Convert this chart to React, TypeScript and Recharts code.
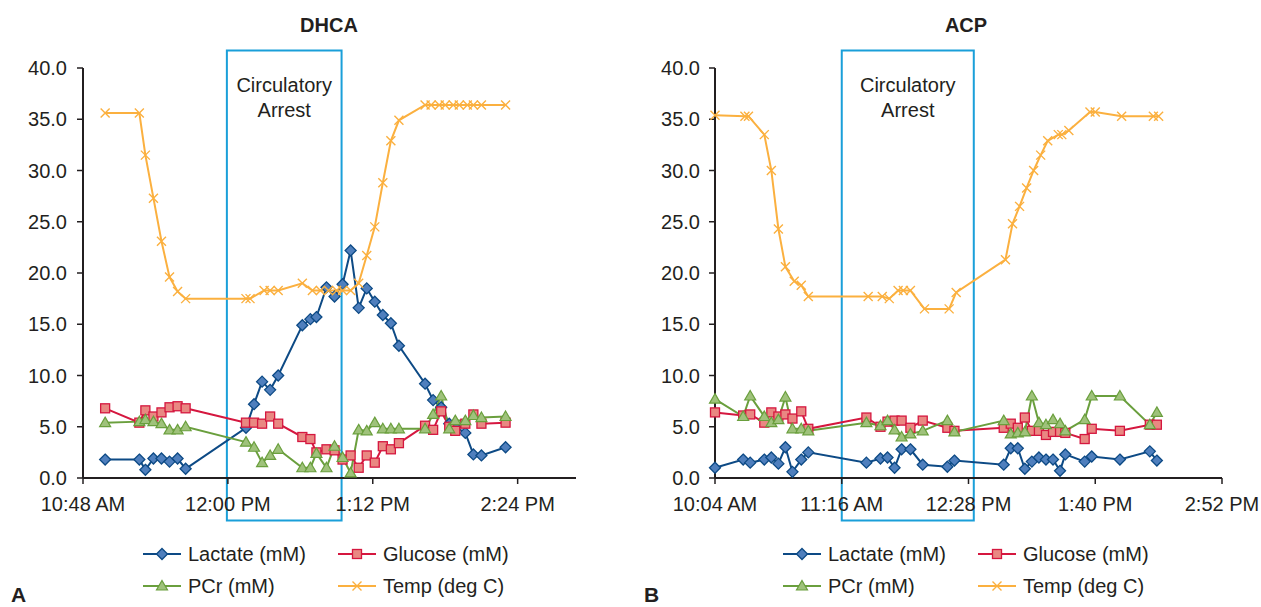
import React from "react";
import { LineChart, Line, XAxis, YAxis, ReferenceArea } from "recharts";

// DHCA panel (times in minutes after midnight)
const dhcaTimes = [659, 676, 679, 683, 687, 691, 695, 699, 729, 733, 737, 741, 745, 757, 761, 764, 769, 773, 777, 781, 785, 789, 793, 797, 801, 805, 818, 822, 826, 830, 833, 838, 842, 846, 858];
const dhcaLactate = [1.8, 1.8, 0.8, 1.9, 1.9, 1.6, 1.9, 0.9, 4.9, 7.2, 9.4, 8.6, 10.0, 14.9, 15.5, 15.7, 18.6, 17.7, 18.9, 22.2, 16.6, 18.5, 17.2, 15.9, 15.1, 12.9, 9.2, 7.6, 6.9, 5.3, 5.0, 4.4, 2.3, 2.2, 3.0];
const dhcaGlucose = [6.8, 5.4, 6.6, 6.0, 6.4, 6.9, 7.0, 6.8, 5.4, 5.4, 5.3, 6.0, 5.3, 4.0, 3.8, 2.5, 2.8, 2.7, 1.8, 2.2, 1.0, 2.2, 1.5, 3.1, 2.8, 3.4, 5.1, 4.7, 6.5, 5.0, 4.6, 5.3, 6.2, 5.3, 5.4];
const dhcaPCr = [5.4, 5.5, 5.7, 5.5, 5.3, 4.7, 4.7, 5.0, 3.5, 3.0, 1.5, 2.2, 2.8, 1.0, 1.0, 2.4, 1.0, 3.1, 2.0, 0.5, 4.7, 4.6, 5.4, 4.8, 4.8, 4.8, 4.8, 6.2, 8.0, 4.8, 5.6, 5.6, 6.1, 5.9, 6.0];
const dhcaTempTimes = [659, 676, 679, 683, 687, 691, 695, 699, 729, 731, 738, 741, 745, 757, 762, 766, 770, 774, 777, 781, 785, 789, 793, 797, 801, 805, 818, 821, 825, 828, 832, 835, 839, 842, 846, 858];
const dhcaTemp = [35.6, 35.6, 31.5, 27.3, 23.1, 19.6, 18.2, 17.5, 17.5, 17.5, 18.3, 18.3, 18.3, 19.0, 18.3, 18.3, 18.3, 18.3, 18.3, 18.3, 19.0, 21.7, 24.5, 28.8, 32.9, 34.9, 36.4, 36.4, 36.4, 36.4, 36.4, 36.4, 36.4, 36.4, 36.4, 36.4];
const dhcaTicks = [648, 720, 792, 864];

// ACP panel
const acpTimes = [604, 620, 624, 632, 636, 640, 644, 648, 653, 657, 690, 698, 702, 706, 710, 715, 722, 736, 740, 768, 772, 776, 780, 784, 788, 792, 796, 800, 803, 814, 818, 834, 851, 855];
const acpLactate = [1.0, 1.8, 1.5, 1.8, 2.0, 1.4, 3.0, 0.6, 1.8, 2.5, 1.5, 1.9, 2.0, 1.0, 2.8, 2.8, 1.3, 1.1, 1.7, 1.3, 2.9, 2.9, 0.9, 1.6, 2.0, 1.8, 1.8, 0.7, 2.3, 1.6, 2.1, 1.8, 2.6, 1.7];
const acpGlucose = [6.4, 6.1, 6.2, 5.4, 6.4, 6.0, 6.2, 5.8, 6.5, 4.8, 5.9, 5.0, 5.5, 5.6, 5.6, 4.9, 5.6, 4.9, 4.6, 4.9, 5.3, 4.9, 5.9, 4.6, 4.6, 4.2, 4.5, 4.5, 4.4, 3.8, 4.8, 4.6, 5.2, 5.2];
const acpPCr = [7.7, 6.0, 8.0, 6.0, 5.4, 5.7, 7.9, 4.8, 4.8, 4.6, 5.4, 5.1, 5.6, 4.7, 4.0, 4.3, 4.6, 5.6, 4.5, 5.6, 4.3, 4.4, 4.5, 8.0, 5.4, 5.2, 5.7, 5.3, 4.6, 5.7, 8.0, 8.0, 5.2, 6.4];
const acpTempTimes = [604, 621, 623, 632, 636, 640, 644, 649, 653, 657, 691, 699, 703, 708, 711, 715, 723, 737, 741, 769, 773, 777, 781, 785, 789, 793, 799, 801, 805, 817, 820, 835, 853, 856];
const acpTemp = [35.4, 35.3, 35.3, 33.5, 30.0, 24.3, 20.6, 19.2, 18.8, 17.7, 17.7, 17.7, 17.5, 18.3, 18.3, 18.3, 16.5, 16.5, 18.1, 21.3, 24.8, 26.5, 28.3, 30.0, 31.5, 32.9, 33.5, 33.5, 33.9, 35.7, 35.7, 35.3, 35.3, 35.3];
const acpTicks = [604, 676, 748, 820, 892];

const yTicks = [0, 5, 10, 15, 20, 25, 30, 35, 40];

const INK = "#231f20";
const FONT = '"Liberation Sans", Arial, sans-serif';

const zip = (t: number[], v: number[]) => t.map((x, i) => ({ t: x, v: v[i] }));

const fmtTime = (m: number) => {
  const h = Math.floor(m / 60);
  const mm = m % 60;
  const h12 = h % 12 === 0 ? 12 : h % 12;
  return `${h12}:${String(mm).padStart(2, "0")} ${h >= 12 ? "PM" : "AM"}`;
};

const COLORS = {
  lactate: { line: "#0d4a85", fill: "#4f7fbd" },
  glucose: { line: "#d5173f", fill: "#e98882" },
  pcr: { line: "#6a9f3d", fill: "#9fc27b" },
  temp: { line: "#fbb03f", fill: "none" },
};

const Diamond = ({ cx, cy }: { cx: number; cy: number }) => (
  <path
    d={`M${cx},${cy - 5.5}L${cx + 5.5},${cy}L${cx},${cy + 5.5}L${cx - 5.5},${cy}Z`}
    fill={COLORS.lactate.fill}
    stroke={COLORS.lactate.line}
    strokeWidth={1.3}
  />
);
const Square = ({ cx, cy }: { cx: number; cy: number }) => (
  <rect x={cx - 4.5} y={cy - 4.5} width={9} height={9} fill={COLORS.glucose.fill} stroke={COLORS.glucose.line} strokeWidth={1.3} />
);
const Triangle = ({ cx, cy }: { cx: number; cy: number }) => (
  <path
    d={`M${cx},${cy - 5.5}L${cx + 5.5},${cy + 4}L${cx - 5.5},${cy + 4}Z`}
    fill={COLORS.pcr.fill}
    stroke={COLORS.pcr.line}
    strokeWidth={1.2}
  />
);
const Cross = ({ cx, cy }: { cx: number; cy: number }) => (
  <path
    d={`M${cx - 4.5},${cy - 4.5}L${cx + 4.5},${cy + 4.5}M${cx + 4.5},${cy - 4.5}L${cx - 4.5},${cy + 4.5}`}
    stroke={COLORS.temp.line}
    strokeWidth={1.4}
    fill="none"
  />
);

const dotOf = (Shape: any) => (p: any) => {
  if (p.cx == null || p.cy == null) return <g key={p.index} />;
  return <Shape key={p.index} cx={p.cx} cy={p.cy} />;
};

const ArrestLabel = (props: any) => {
  const vb = props.viewBox || { x: 0, y: 0, width: 0 };
  const cx = vb.x + vb.width / 2;
  return (
    <text x={cx} y={vb.y + 41} textAnchor="middle" fontSize={20} fill={INK} fontFamily={FONT}>
      <tspan x={cx}>Circulatory</tspan>
      <tspan x={cx} dy={25}>
        Arrest
      </tspan>
    </text>
  );
};

type PanelProps = {
  left: number;
  width: number;
  marginRight: number;
  domain: [number, number];
  ticks: number[];
  arrest: [number, number];
  tickMargin: number;
  lactate: { t: number; v: number }[];
  glucose: { t: number; v: number }[];
  pcr: { t: number; v: number }[];
  temp: { t: number; v: number }[];
};

function Panel(p: PanelProps) {
  return (
    <div style={{ position: "absolute", left: p.left, top: 0 }}>
      <LineChart width={p.width} height={607} margin={{ top: 68, right: p.marginRight, bottom: 99, left: 0 }}>
        <XAxis
          type="number"
          dataKey="t"
          domain={p.domain}
          ticks={p.ticks}
          interval={0}
          tickFormatter={fmtTime}
          height={30}
          tickSize={6}
          tickMargin={13}
          axisLine={{ stroke: INK, strokeWidth: 2 }}
          tickLine={{ stroke: INK, strokeWidth: 1.5 }}
          tick={{ fill: INK, fontSize: 20, fontFamily: FONT }}
          allowDuplicatedCategory={false}
        />
        <YAxis
          type="number"
          domain={[0, 40]}
          ticks={yTicks}
          interval={0}
          width={83}
          tickFormatter={(v: number) => v.toFixed(1)}
          tickSize={6}
          tickMargin={p.tickMargin}
          axisLine={{ stroke: INK, strokeWidth: 2 }}
          tickLine={{ stroke: INK, strokeWidth: 1.5 }}
          tick={{ fill: INK, fontSize: 20, fontFamily: FONT }}
        />
        <Line data={p.lactate} dataKey="v" type="linear" stroke={COLORS.lactate.line} strokeWidth={2} dot={dotOf(Diamond)} activeDot={false} isAnimationActive={false} />
        <Line data={p.glucose} dataKey="v" type="linear" stroke={COLORS.glucose.line} strokeWidth={2} dot={dotOf(Square)} activeDot={false} isAnimationActive={false} />
        <Line data={p.pcr} dataKey="v" type="linear" stroke={COLORS.pcr.line} strokeWidth={2} dot={dotOf(Triangle)} activeDot={false} isAnimationActive={false} />
        <Line data={p.temp} dataKey="v" type="linear" stroke={COLORS.temp.line} strokeWidth={2} dot={dotOf(Cross)} activeDot={false} isAnimationActive={false} />
        <ReferenceArea
          x1={p.arrest[0]}
          x2={p.arrest[1]}
          y1={-4.15}
          y2={41.7}
          ifOverflow="visible"
          fill="none"
          fillOpacity={0}
          stroke="#1a9fd9"
          strokeWidth={2}
          label={(lp: any) => <ArrestLabel {...lp} />}
        />
      </LineChart>
    </div>
  );
}

const legendItems = [
  { name: "Lactate (mM)", Shape: Diamond, color: COLORS.lactate.line, col: 0, row: 0 },
  { name: "Glucose (mM)", Shape: Square, color: COLORS.glucose.line, col: 1, row: 0 },
  { name: "PCr (mM)", Shape: Triangle, color: COLORS.pcr.line, col: 0, row: 1 },
  { name: "Temp (deg C)", Shape: Cross, color: COLORS.temp.line, col: 1, row: 1 },
];

function LegendBlock({ offset }: { offset: number }) {
  return (
    <>
      {legendItems.map((it) => {
        const lineX = offset + (it.col === 0 ? 143 : 338);
        const rowY = it.row === 0 ? 554 : 586;
        const S = it.Shape;
        return (
          <React.Fragment key={it.name}>
            <svg style={{ position: "absolute", left: lineX, top: rowY - 9 }} width={38} height={18}>
              <line x1={0} y1={9} x2={38} y2={9} stroke={it.color} strokeWidth={2} />
              <S cx={19} cy={9} />
            </svg>
            <div style={{ position: "absolute", left: lineX + 45, top: rowY - 12, fontSize: 20, lineHeight: "24px", color: INK, whiteSpace: "nowrap" }}>
              {it.name}
            </div>
          </React.Fragment>
        );
      })}
    </>
  );
}

export default function App() {
  return (
    <div style={{ position: "absolute", left: 0, top: 0, width: 1261, height: 607, background: "#fff", fontFamily: FONT, overflow: "hidden" }}>
      <Panel
        left={0}
        width={660}
        marginRight={84}
        domain={[648, 893]}
        ticks={dhcaTicks}
        arrest={[719.5, 776.5]}
        tickMargin={10}
        lactate={zip(dhcaTimes, dhcaLactate)}
        glucose={zip(dhcaTimes, dhcaGlucose)}
        pcr={zip(dhcaTimes, dhcaPCr)}
        temp={zip(dhcaTempTimes, dhcaTemp)}
      />
      <Panel
        left={632}
        width={629}
        marginRight={39}
        domain={[604, 892]}
        ticks={acpTicks}
        arrest={[676, 751]}
        tickMargin={9}
        lactate={zip(acpTimes, acpLactate)}
        glucose={zip(acpTimes, acpGlucose)}
        pcr={zip(acpTimes, acpPCr)}
        temp={zip(acpTempTimes, acpTemp)}
      />
      <div style={{ position: "absolute", left: 229, width: 200, top: 14, textAlign: "center", fontWeight: "bold", fontSize: 20, color: INK }}>DHCA</div>
      <div style={{ position: "absolute", left: 866, width: 200, top: 14, textAlign: "center", fontWeight: "bold", fontSize: 20, color: INK }}>ACP</div>
      <LegendBlock offset={0} />
      <LegendBlock offset={640} />
      <div style={{ position: "absolute", left: 11, top: 584, fontWeight: "bold", fontSize: 21, lineHeight: "22px", color: INK }}>A</div>
      <div style={{ position: "absolute", left: 644, top: 584, fontWeight: "bold", fontSize: 21, lineHeight: "22px", color: INK }}>B</div>
    </div>
  );
}
